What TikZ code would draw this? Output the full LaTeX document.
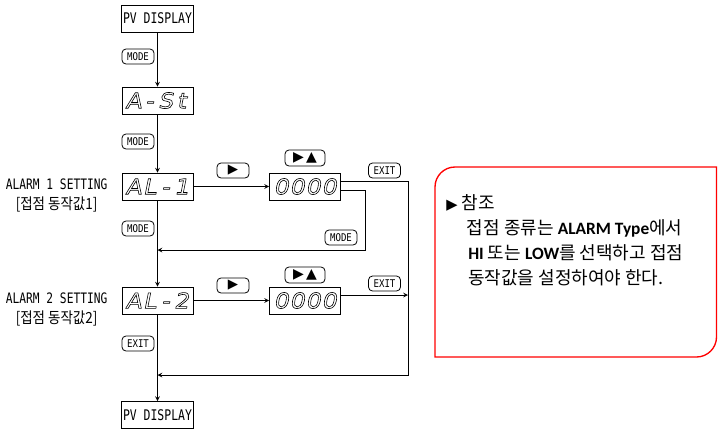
\documentclass[tikz,border=0pt]{standalone}
\usepackage{fontspec}
\usetikzlibrary{positioning, arrows}
\newfontfamily\cadfont[FakeStretch=0.78]{DejaVu Sans Mono}
\newfontfamily\btnfont[FakeStretch=0.85]{DejaVu Sans Mono}
\newfontfamily\segfont[FakeSlant=0.2, FakeStretch=1.1]{DejaVu Sans}
\newfontfamily\cadkr[FakeStretch=0.88]{Noto Sans CJK KR}
\newfontfamily\kr{Noto Sans CJK KR}
\newfontfamily\carlito{Carlito}
\newfontfamily\symfont{DejaVu Sans}
\newcommand{\cell}[1]{\makebox[12pt]{#1}}
\newcommand{\seg}[4]{\special{pdf:literal direct 1 Tr 0.45 w}\cell{#1}\cell{#2}\cell{#3}\cell{#4}\special{pdf:literal direct 0 Tr}}
\tikzset{
	disp/.style={draw, line width=0.6pt, minimum width=53.25pt, minimum height=20.25pt, inner sep=0pt, font=\segfont\fontsize{16}{16}\selectfont},
	pvbox/.style={draw, line width=0.6pt, minimum width=54pt, minimum height=20.25pt, inner sep=0pt, font=\cadfont\fontsize{11}{11}\selectfont},
	key/.style={draw, line width=0.6pt, rounded corners=3pt, minimum width=24pt, minimum height=11.25pt, inner sep=0pt, font=\btnfont\fontsize{8}{8}\selectfont},
	symkey/.style={key, font=\symfont\fontsize{10}{10}\selectfont},
	adjkey/.style={key, minimum width=30pt, minimum height=12pt, font=\symfont\fontsize{10.5}{10.5}\selectfont},
	caption/.style={align=center, inner sep=0pt, font=\cadfont\fontsize{10.8}{15}\selectfont},
	flow/.style={->, >=stealth, line width=0.6pt},
	notebox/.style={draw=red, line width=1pt}
}
\begin{document}
\begin{tikzpicture}[x=0.75pt, y=-0.75pt]
	\useasboundingbox (0,0) rectangle (718,429);

	\node[pvbox] (pvtop) at (157.5,18.5) {PV DISPLAY};
	\node[key] (modeA) at (138,56.5) {MODE};
	\node[disp] (ast) at (157.5,100.5) {\seg{A}{-}{S}{t}};
	\node[key] (modeB) at (138,141.5) {MODE};
	\node[disp] (al1) at (157.5,186.5) {\seg{A}{L}{-}{1}};
	\node[key] (modeC) at (138,228.5) {MODE};
	\node[disp] (al2) at (157.5,300.5) {\seg{A}{L}{-}{2}};
	\node[key] (exitC) at (138,343.5) {EXIT};
	\node[pvbox] (pvbot) at (157.5,415) {PV DISPLAY};

	\node[caption, left=10.5pt of al1, yshift=-6.4pt] (alarm1) {ALARM 1 SETTING\\{\cadkr\fontsize{11.5}{15}\selectfont [접점 동작값1]}};
	\node[caption, left=10.5pt of al2, yshift=-6.4pt] (alarm2) {ALARM 2 SETTING\\{\cadkr\fontsize{11.5}{15}\selectfont [접점 동작값2]}};

	\node[symkey] (go1) at (233,170.5) {▶};
	\node[adjkey] (adj1) at (305,158) {▶\,▲};
	\node[disp] (val1) at (305,186.5) {\seg{0}{0}{0}{0}};
	\node[key] (exitA) at (384.5,170.5) {EXIT};
	\node[key] (modeR) at (341,237.5) {MODE};

	\node[symkey] (go2) at (233,285.5) {▶};
	\node[adjkey] (adj2) at (305,275) {▶\,▲};
	\node[disp] (val2) at (305,300.5) {\seg{0}{0}{0}{0}};
	\node[key] (exitB) at (384.5,283.5) {EXIT};

	\coordinate (loopR) at (365,250);
	\coordinate (exitR) at (408,375);

	\draw[flow] (pvtop) -- (ast);
	\draw[flow] (ast) -- (al1);
	\draw[flow] (al1) -- (al2);
	\draw[flow] (al2) -- (pvbot);
	\draw[flow] (al1) -- (val1);
	\draw[flow] (al2) -- (val2);
	\draw[flow] ([yshift=-2.6pt]val1.east) -| (loopR) -- (loopR -| al1);
	\draw[flow] ([yshift=4.1pt]val1.east) -| (exitR) -- (exitR -| al2);
	\draw[flow] ([yshift=4.1pt]val2.east) coordinate (out2) -- (out2 -| exitR);

	\draw[notebox] (435,357) -- (435,187) arc[start angle=180, end angle=270, radius=20] -- (716.5,167) -- (716.5,337) arc[start angle=0, end angle=90, radius=20] -- cycle;
	\node[anchor=north west, align=left, inner sep=0pt, font=\kr\fontsize{13.5}{18.75}\selectfont] (note) at (446,194) {{\symfont\fontsize{11}{11}\selectfont ▶}\ 참조\\
		\hspace*{15.5pt}접점 종류는 {\carlito\bfseries\fontsize{13}{13}\selectfont ALARM Type}에서\\
		\hspace*{16.5pt}{\carlito\bfseries\fontsize{13}{13}\selectfont HI} 또는 {\carlito\bfseries\fontsize{13}{13}\selectfont LOW}를 선택하고 접점\\
		\hspace*{16.5pt}동작값을 설정하여야 한다.};
\end{tikzpicture}
\end{document}
